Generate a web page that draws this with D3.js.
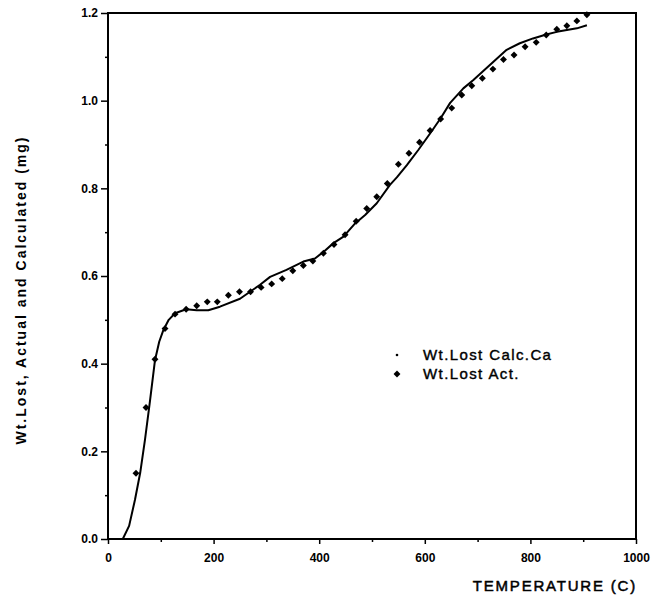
<!DOCTYPE html>
<html>
<head>
<meta charset="utf-8">
<script src="https://cdn.jsdelivr.net/npm/d3@7"></script>
<style>
  body { margin: 0; background: #fff; }
  svg { font-family: "Liberation Sans", Arial, sans-serif; }
</style>
</head>
<body>
<div id="chart"></div>
<script>
// Wt.Lost Act. (diamonds)
const actTemp = [53, 72, 89, 108, 127, 148, 168, 188, 207, 228, 249, 270, 290, 310, 330, 350, 370, 388, 408, 428, 449, 470, 490, 509, 529, 550, 570, 590, 610, 630, 651, 670, 689, 709, 729, 749, 769, 790, 811, 830, 850, 869, 888, 907];
const actLoss = [0.15, 0.30, 0.41, 0.48, 0.513, 0.524, 0.532, 0.541, 0.541, 0.556, 0.564, 0.564, 0.574, 0.582, 0.594, 0.612, 0.624, 0.634, 0.652, 0.672, 0.694, 0.725, 0.754, 0.781, 0.811, 0.855, 0.880, 0.905, 0.932, 0.958, 0.983, 1.013, 1.034, 1.051, 1.072, 1.094, 1.104, 1.123, 1.133, 1.150, 1.163, 1.171, 1.182, 1.196];

// Wt.Lost Calc.Ca (line)
const calcTemp = [28, 40, 51, 61, 70, 79, 89, 97, 105, 115, 127, 148, 168, 190, 212, 250, 269, 288, 307, 338, 370, 392, 408, 427, 446, 468, 487, 509, 534, 547, 566, 588, 610, 630, 648, 673, 692, 730, 755, 780, 805, 830, 850, 869, 888, 907];
const calcLoss = [0, 0.03, 0.089, 0.151, 0.226, 0.31, 0.408, 0.45, 0.477, 0.50, 0.515, 0.524, 0.522, 0.522, 0.530, 0.548, 0.564, 0.58, 0.598, 0.614, 0.633, 0.640, 0.655, 0.675, 0.690, 0.720, 0.739, 0.766, 0.808, 0.825, 0.853, 0.888, 0.925, 0.96, 0.995, 1.028, 1.047, 1.089, 1.116, 1.131, 1.142, 1.151, 1.157, 1.161, 1.165, 1.172];

const xTicks = [0, 200, 400, 600, 800, 1000];
const yTicks = [0, 0.2, 0.4, 0.6, 0.8, 1.0, 1.2];
const legendLabels = ["Wt.Lost Calc.Ca", "Wt.Lost Act."];

const width = 654, height = 601;
const plotL = 108, plotR = 636, plotT = 13, plotB = 539;

const svg = d3.select("#chart").append("svg")
    .attr("width", width)
    .attr("height", height);

const x = d3.scaleLinear().domain([0, 1000]).range([plotL, plotR]);
const y = d3.scaleLinear().domain([0, 1.2]).range([plotB, plotT]);

// minor ticks
svg.append("g")
    .attr("transform", `translate(0,${plotB})`)
    .call(d3.axisBottom(x).tickValues([100, 300, 500, 700, 900]).tickSize(3).tickFormat(""))
    .call(g => g.select(".domain").remove())
    .selectAll("line").attr("stroke-width", 1.5);
svg.append("g")
    .attr("transform", `translate(${plotL},0)`)
    .call(d3.axisLeft(y).tickValues([0.1, 0.3, 0.5, 0.7, 0.9, 1.1]).tickSize(3).tickFormat(""))
    .call(g => g.select(".domain").remove())
    .selectAll("line").attr("stroke-width", 1.5);

// major axes
const xAxis = svg.append("g")
    .attr("transform", `translate(0,${plotB})`)
    .call(d3.axisBottom(x).tickValues(xTicks).tickSize(5).tickPadding(9).tickFormat(d3.format("d")));
const yAxis = svg.append("g")
    .attr("transform", `translate(${plotL},0)`)
    .call(d3.axisLeft(y).tickValues(yTicks).tickSize(7).tickPadding(3).tickFormat(d3.format(".1f")));

[xAxis, yAxis].forEach(g => {
    g.select(".domain").remove();
    g.selectAll("line").attr("stroke-width", 1.5);
    g.selectAll("text")
        .attr("fill", "#000")
        .style("font-size", "12px")
        .style("font-weight", "bold");
});

// frame
svg.append("rect")
    .attr("x", plotL).attr("y", plotT)
    .attr("width", plotR - plotL).attr("height", plotB - plotT)
    .attr("fill", "none").attr("stroke", "#000").attr("stroke-width", 2);

// calculated line
const calcData = calcTemp.map((t, i) => ({ t: t, v: calcLoss[i] }));
svg.append("path")
    .datum(calcData)
    .attr("fill", "none")
    .attr("stroke", "#000")
    .attr("stroke-width", 2)
    .attr("stroke-linejoin", "round")
    .attr("d", d3.line().x(d => x(d.t)).y(d => y(d.v)));

// actual points
const diamond = d3.symbol(d3.symbolSquare, 24);
const actData = actTemp.map((t, i) => ({ t: t, v: actLoss[i] }));
svg.selectAll(".pt")
    .data(actData)
    .enter()
    .append("path")
    .attr("class", "pt")
    .attr("d", diamond)
    .attr("transform", d => `translate(${x(d.t)},${y(d.v)}) rotate(45)`)
    .attr("fill", "#000");

// legend
const legend = svg.append("g");
legend.append("circle").attr("cx", 397).attr("cy", 355).attr("r", 1.3).attr("fill", "#000");
legend.append("path").attr("d", diamond).attr("transform", "translate(397,374) rotate(45)").attr("fill", "#000");
legend.selectAll("text")
    .data(legendLabels)
    .enter()
    .append("text")
    .attr("x", 423)
    .attr("y", (d, i) => 360 + i * 19)
    .style("font-size", "15px")
    .style("letter-spacing", "1.4px")
    .attr("stroke", "#000")
    .attr("stroke-width", 0.4)
    .text(d => d);

// axis titles
svg.append("text")
    .attr("x", 637).attr("y", 591)
    .attr("text-anchor", "end")
    .style("font-size", "15px")
    .style("letter-spacing", "1.8px")
    .attr("stroke", "#000")
    .attr("stroke-width", 0.5)
    .text("TEMPERATURE (C)");

svg.append("text")
    .attr("transform", "translate(26,290) rotate(-90)")
    .attr("text-anchor", "middle")
    .style("font-size", "14px")
    .style("font-weight", "bold")
    .style("letter-spacing", "2px")
    .text("Wt.Lost, Actual and Calculated (mg)");
</script>
</body>
</html>
